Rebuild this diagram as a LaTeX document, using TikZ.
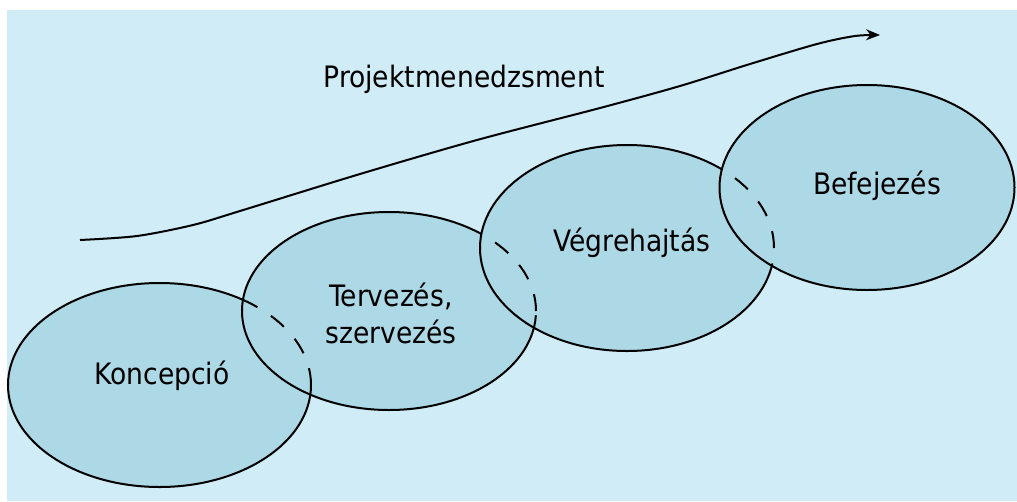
\documentclass[tikz,border=0pt]{standalone}
\usepackage{fontspec}
\setmainfont{DejaVu Sans Condensed}
\usetikzlibrary{shapes.geometric,arrows.meta}
\definecolor{bgblue}{RGB}{208,236,246}
\definecolor{ellblue}{RGB}{173,216,230}
\tikzset{
  phase/.style={ellipse, draw=black, line width=2pt, fill=ellblue, inner sep=0pt},
  hidden/.style={draw=black, line width=2pt, dash pattern=on 17pt off 16pt},
  lbl/.style={font=\fontsize{29.5}{37}\selectfont, text=black, align=center, inner sep=0pt},
}
\begin{document}
\begin{tikzpicture}[x=1pt,y=-1pt]
\useasboundingbox (0,0) rectangle (1017,501);
\fill[white] (0,0) rectangle (1017,501);
\fill[bgblue] (7,10) rectangle (1017,501);
% ellipses
\node[phase, minimum width=303pt, minimum height=204pt] (e1) at (159.5,385) {};
\node[phase, minimum width=294pt, minimum height=198pt] (e2) at (389,311) {};
\node[phase, minimum width=294pt, minimum height=206pt] (e3) at (627,248) {};
\node[phase, minimum width=295pt, minimum height=205pt] (e4) at (867,187.5) {};
% hidden parts
\begin{scope}
  \clip (e2.center) ellipse [x radius=147pt, y radius=99pt];
  \path[hidden] (e1.center) ellipse [x radius=151.5pt, y radius=102pt];
\end{scope}
\begin{scope}
  \clip (e3.center) ellipse [x radius=147pt, y radius=103pt];
  \path[hidden] (e2.center) ellipse [x radius=147pt, y radius=99pt];
\end{scope}
\begin{scope}
  \clip (e4.center) ellipse [x radius=147.5pt, y radius=102.5pt];
  \path[hidden] (e3.center) ellipse [x radius=147pt, y radius=103pt];
\end{scope}
% labels
\node[lbl] (t1) at (162,376) {Koncepció};
\node[lbl] (t2) at (391,313) {Tervezés,\\szervezés};
\node[lbl] (t3) at (632,243) {Végrehajtás};
\node[lbl] (t4) at (877,186) {Befejezés};
\node[lbl] (pm) at (464,79) {Projektmenedzsment};
% arrow
\coordinate (a0) at (80,240);
\coordinate (a1) at (880,35);
\draw[line width=2pt, -{Stealth[length=14pt,width=11pt]}]
  plot[smooth, tension=0.5] coordinates {(a0) (137,236) (193,225) (240,211) (360,174) (477,140) (600,108) (680,86) (750,64) (817,44) (855,36) (a1)};
\end{tikzpicture}
\end{document}
